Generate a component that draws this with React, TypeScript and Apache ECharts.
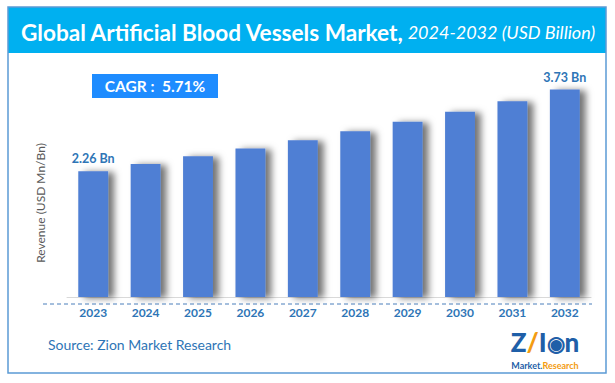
import React, { useEffect, useRef } from "react";
import * as echarts from "echarts";

const years = ["2023", "2024", "2025", "2026", "2027", "2028", "2029", "2030", "2031", "2032"];
const revenue = [2.26, 2.39, 2.53, 2.67, 2.82, 2.98, 3.15, 3.33, 3.52, 3.73];
const labelledIndexes = [0, 9];
const titleMain = "Global Artificial Blood Vessels Market,";
const titleSub = "2024-2032 (USD Billion)";
const cagrText = "CAGR :  5.71%";
const yAxisTitle = "Revenue (USD Mn/Bn)";
const sourceText = "Source: Zion Market Research";

const FONT = "Lato, 'Open Sans', sans-serif";
const BLUE_TEXT = "#2e75b6";

export default function App() {
  const ref = useRef<HTMLDivElement>(null);
  useEffect(() => {
    document.body.style.margin = "0";
    const chart = echarts.init(ref.current!, null, { renderer: "svg" });
    chart.setOption({
      animation: false,
      backgroundColor: "#ffffff",
      grid: { left: 67, right: 24, top: 74.6, bottom: 86, containLabel: false },
      xAxis: {
        type: "category",
        data: years,
        axisLine: { show: true, lineStyle: { color: "#d9d9d9", width: 1 } },
        axisTick: { show: false },
        axisLabel: {
          margin: 9,
          color: BLUE_TEXT,
          fontWeight: "bold",
          fontSize: 12,
          fontFamily: FONT,
        },
      },
      yAxis: {
        type: "value",
        min: 0,
        max: 4,
        show: false,
        splitLine: { show: false },
      },
      series: [
        {
          type: "bar",
          data: revenue.map((v, i) => ({
            value: v,
            label: {
              show: labelledIndexes.includes(i),
              position: "top",
              distance: 6,
              formatter: (p: any) => p.value.toFixed(2) + " Bn",
              color: BLUE_TEXT,
              fontWeight: "bold",
              fontSize: 12.5,
              fontFamily: FONT,
            },
          })),
          barWidth: "57%",
          itemStyle: {
            color: "#4f7fd4",
            shadowColor: "rgba(0,0,0,0.55)",
            shadowBlur: 7,
            shadowOffsetX: 6,
            shadowOffsetY: 1,
          },
        },
      ],
      graphic: [
        {
          type: "rect",
          shape: { x: 8, y: 7, width: 598, height: 366 },
          style: { fill: "none", stroke: "#5b9bd5", lineWidth: 1.5 },
          z: 10,
        },
        {
          type: "rect",
          shape: { x: 8, y: 7, width: 598, height: 46 },
          style: { fill: "#00b0f0" },
          z: 9,
        },
        {
          type: "text",
          x: 21,
          y: 32,
          style: {
            text: "{a|" + titleMain + "} {b|" + titleSub + "}",
            verticalAlign: "middle",
            rich: {
              a: { fontSize: 22.6, fontWeight: "bold", fill: "#ffffff", fontFamily: FONT },
              b: { fontSize: 18, fontStyle: "italic", fill: "#ffffff", fontFamily: FONT },
            },
          },
          z: 11,
        },
        {
          type: "rect",
          shape: { x: 92, y: 74, width: 126, height: 24 },
          style: { fill: "#1e8cff" },
          z: 9,
        },
        {
          type: "text",
          x: 155,
          y: 86,
          style: {
            text: cagrText,
            fill: "#ffffff",
            fontSize: 15.5,
            fontWeight: "bold",
            fontFamily: FONT,
            align: "center",
            verticalAlign: "middle",
          },
          z: 11,
        },
        {
          type: "text",
          x: 40,
          y: 203,
          rotation: Math.PI / 2,
          style: {
            text: yAxisTitle,
            fill: "#595959",
            fontSize: 12,
            fontFamily: FONT,
            align: "center",
            verticalAlign: "middle",
          },
          z: 11,
        },
        {
          type: "line",
          shape: { x1: 43, y1: 304, x2: 592, y2: 304 },
          style: { stroke: "#4a7ebb", lineWidth: 1, lineDash: [4, 3] },
          z: 9,
        },
        {
          type: "text",
          x: 48,
          y: 344,
          style: {
            text: sourceText,
            fill: BLUE_TEXT,
            fontSize: 14,
            fontFamily: FONT,
            verticalAlign: "middle",
          },
          z: 11,
        },
        {
          type: "text",
          x: 545,
          y: 342,
          style: {
            text: "{z|Z}{o|/}{z|I}{g|◉}{z|n}",
            align: "center",
            verticalAlign: "middle",
            rich: {
              z: { fontSize: 26, lineHeight: 24, fontWeight: 900, fill: "#1f5fa8", fontFamily: FONT },
              o: { fontSize: 26, lineHeight: 24, fontWeight: 900, fill: "#f39c12", fontFamily: FONT },
              g: { fontSize: 21, lineHeight: 24, fontWeight: 900, fill: "#1f5fa8", fontFamily: FONT },
            },
          },
          z: 11,
        },
        {
          type: "text",
          x: 545,
          y: 365,
          style: {
            text: "{m|Market.}{r|Research}",
            align: "center",
            verticalAlign: "middle",
            rich: {
              m: { fontSize: 9, lineHeight: 9, fontWeight: "bold", fill: "#1f5fa8", fontFamily: FONT },
              r: { fontSize: 9, lineHeight: 9, fontWeight: "bold", fill: "#f39c12", fontFamily: FONT },
            },
          },
          z: 11,
        },
      ],
    });
    return () => chart.dispose();
  }, []);
  return <div ref={ref} style={{ width: 615, height: 383 }} />;
}
